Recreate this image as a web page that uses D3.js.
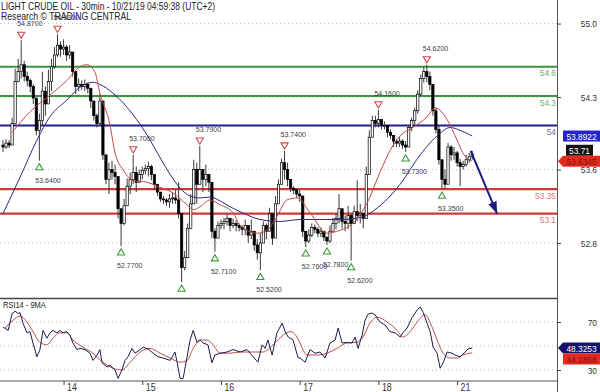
<!DOCTYPE html>
<html>
<head>
<meta charset="utf-8">
<script src="https://cdn.jsdelivr.net/npm/d3@7"></script>
<style>
  body { margin: 0; background: #fff; }
  svg { display: block; font-family: "Liberation Sans", Arial, sans-serif; }
</style>
</head>
<body>
<svg id="chart" width="600" height="392"></svg>
<script>
// 30min bars, open = previous close
const firstOpen = 53.80;
const highs = [53.85,53.86,53.85,54.08,54.58,54.68,54.87,54.66,54.55,54.48,54.42,54.25,54.12,54.55,54.40,54.57,54.68,54.80,54.93,54.86,
  54.88,54.82,54.82,54.72,54.52,54.48,54.46,54.47,54.44,54.35,54.22,54.12,54.32,54.15,53.62,53.62,53.64,53.60,53.40,53.12,
  53.25,53.46,53.52,53.70,53.58,53.55,53.58,53.60,53.63,53.60,53.50,53.40,53.32,53.28,53.26,53.30,53.32,53.34,53.42,52.85,
  52.72,53.00,53.30,53.65,53.62,53.79,53.55,53.60,53.50,53.28,52.95,53.02,53.04,53.06,53.10,53.06,53.05,53.03,53.00,52.98,
  53.04,52.98,53.04,52.90,52.84,52.90,53.02,53.00,53.16,53.10,53.28,53.45,53.66,53.74,53.62,53.44,53.38,53.36,53.34,53.26,
  52.90,52.94,53.00,52.99,52.96,52.96,52.92,52.86,52.98,53.06,53.10,53.30,53.12,53.08,53.18,53.10,53.18,53.44,53.20,53.10,
  53.58,53.95,54.10,54.10,54.16,54.06,54.04,54.00,53.96,53.90,53.86,53.88,53.86,53.84,54.00,54.08,54.18,54.36,54.52,54.60,
  54.62,54.55,54.42,54.18,54.00,53.62,53.55,53.82,53.80,53.78,53.74,53.66,53.64,53.70,53.72,53.74];
const lows = [53.73,53.76,53.77,53.80,54.05,54.44,54.48,54.45,54.40,54.34,54.22,53.90,53.64,54.00,54.10,54.25,54.35,54.58,54.70,54.70,
  54.72,54.66,54.68,54.50,54.32,54.35,54.36,54.35,54.33,54.18,54.05,53.98,54.00,53.65,53.40,53.30,53.45,53.40,53.05,52.77,
  52.98,53.18,53.30,53.40,53.32,53.42,53.45,53.50,53.48,53.44,53.34,53.28,53.22,53.20,53.18,53.16,53.20,53.20,53.05,52.40,
  52.52,52.65,52.95,53.25,53.20,53.40,53.32,53.38,53.32,52.85,52.71,52.88,52.94,52.94,52.98,52.92,52.95,52.92,52.92,52.88,
  52.88,52.80,52.84,52.72,52.63,52.52,52.83,52.84,52.92,52.78,53.02,53.22,53.42,53.45,53.38,53.32,53.30,53.26,53.22,52.86,
  52.76,52.80,52.86,52.90,52.86,52.86,52.82,52.78,52.80,52.92,52.94,53.00,52.95,52.92,52.94,52.62,53.00,53.02,53.00,52.95,
  53.05,53.50,53.90,53.98,53.98,53.96,53.96,53.88,53.86,53.78,53.78,53.78,53.76,53.73,53.80,53.94,54.00,54.12,54.30,54.44,
  54.44,54.36,54.10,53.92,53.60,53.35,53.35,53.42,53.64,53.65,53.58,53.38,53.55,53.58,53.62,53.65];
const closes = [53.78,53.82,53.80,54.02,54.45,54.55,54.62,54.50,54.46,54.40,54.28,53.95,54.05,54.35,54.22,54.45,54.60,54.72,54.82,54.78,
  54.80,54.72,54.75,54.55,54.40,54.42,54.40,54.42,54.38,54.25,54.10,54.02,54.25,53.70,53.45,53.55,53.52,53.48,53.15,53.00,
  53.18,53.38,53.45,53.52,53.42,53.50,53.54,53.56,53.58,53.50,53.40,53.32,53.25,53.24,53.22,53.25,53.26,53.24,53.10,52.55,
  52.65,52.95,53.20,53.55,53.40,53.55,53.45,53.50,53.42,52.92,52.85,52.98,53.00,53.02,53.05,52.98,53.00,52.98,52.96,52.94,
  52.98,52.88,52.92,52.78,52.70,52.80,52.98,52.92,53.10,52.85,53.20,53.40,53.62,53.55,53.45,53.36,53.34,53.30,53.28,52.92,
  52.82,52.88,52.96,52.94,52.90,52.92,52.86,52.82,52.92,53.00,53.05,53.15,53.02,53.00,53.08,53.00,53.12,53.08,53.10,53.05,
  53.50,53.88,54.05,54.02,54.06,54.00,54.00,53.93,53.90,53.84,53.82,53.84,53.80,53.78,53.98,54.05,54.15,54.32,54.48,54.55,
  54.50,54.42,54.15,53.96,53.65,53.45,53.40,53.78,53.70,53.72,53.62,53.58,53.60,53.65,53.68,53.71];

// moving averages (bar index, value)
const maFastBars = [3,8.9,15.5,21.1,25.4,27.7,30.4,32,35.3,37,39.6,42.9,47.6,50.9,56.2,60.8,62.8,65.1,68.4,71.7,76,78.3,83.9,87.2,90.5,
  93.8,97.1,101.4,107,111.3,115.6,120.3,124.5,128.5,132.1,135.4,140.1,142.7,146.7,150,151.9,155];
const maFastVals = [53.93,54.14,54.31,54.46,54.60,54.62,54.54,54.33,54.01,53.72,53.55,53.44,53.42,53.38,53.31,53.19,53.14,53.17,53.24,
  53.19,53.11,52.98,52.90,52.93,53.07,53.24,53.26,53.11,52.90,52.93,53.00,53.21,53.52,53.78,53.92,53.98,54.09,54.18,54.06,53.85,
  53.72,53.6345];
const maSlowBars = [0,5.6,11.2,15.5,21.1,25.4,29.7,32,36.3,40.3,42.9,45.3,48.6,51.9,55.2,58.5,61.8,65.1,68.4,71.7,75,78.3,84.9,91.5,
  98.1,104.7,111.3,117.9,124.5,131.2,137.8,144.4,147.7,151,155];
const maSlowVals = [53.10,53.47,53.85,54.09,54.26,54.39,54.44,54.42,54.33,54.21,54.11,54.01,53.85,53.67,53.50,53.36,53.28,53.26,53.27,
  53.23,53.17,53.12,53.04,53.02,53.04,53.04,53.04,53.06,53.18,53.40,53.70,53.92,53.98,53.95,53.8922];

// RSI14 and its 9MA (bar index, value)
const rsiBars = [0,1.7,3,4,5,5.6,6.6,7.9,8.9,9.9,11.2,12.2,13.2,14.5,15.5,16.5,17.8,18.8,19.8,21.1,22.1,23.1,24.4,25.4,27.1,28.7,29.7,
  31.1,32,32.7,34.4,35.3,37,38,39.3,40.3,41.3,42.6,43.6,45.3,46.3,47.9,49.6,51.2,52.9,55.2,56.8,57.5,58.5,59.5,60.8,61.8,62.8,64.1,
  65.1,66.1,67.7,69,70,71.7,74,76,78.3,80.6,82.6,84.2,85.6,86.6,87.5,88.9,90.5,92.2,93.2,94.2,95.8,97.5,98.1,99.8,101.4,103.1,104.7,
  106.4,108,109.7,110.7,112,113.6,115.3,116.3,117.3,118.6,119.6,120.6,121.9,122.9,124.5,126.2,127.8,129.5,131.2,132.1,133.5,135.1,
  136.8,137.8,138.8,140.1,141.1,142.1,143.4,144.4,145.4,146.7,148.3,149.3,151,152.6,153.6,155];
const rsiVals = [65.8,63,77,79,77,78,69,61,62,52.5,41,47,63,56.5,61,63,61,63,61,62,59,52.5,47,48,47,44,38,42.5,47,36,32.5,34,30,23,30,
  38,41,48,44,47,49,47.5,44,41,40,38,45,36.5,23,23,41,55,63,53,55,52.5,51,36,42.5,44,45,47,45,47,41,36.5,51,48,55,42.5,61,69,62,57.5,
  55,40,40,36.5,47,44,45,40,52.5,55,65,52.5,53,52.5,57.5,48,59,71.5,76.5,77.5,76,70,67.5,62,61,57.5,61,65,73.5,80,82.5,78,69,62,49,
  44,31.5,36,45,44,42.5,41,45,47.5,48.3253];
const rsiMaBars = [0.7,3.3,5.6,7.9,9.9,12.2,14.5,16.5,18.8,21.1,23.1,26.4,29.7,33,36.3,39.3,42,45.3,48.6,51.9,55.2,58.5,60.8,62.8,65.1,
  67.4,69.4,71.7,75,78.3,82.6,85.9,89.2,92.5,94.8,97.1,98.1,100.4,103.7,107,110.3,113.6,116.9,118.9,121.2,123.6,126.9,130.2,132.1,
  134.5,136.8,139.4,141.7,143.4,145.4,147.7,150,151.9,155];
const rsiMaVals = [65,71.5,75,70,62,53,51,56.5,61,61,55,49,44,36.5,31.5,30,36.5,45,48,44,40,36.5,38,48,55,55,51,44,44,45,45,45,51,59,
  62,57.5,52.5,42.5,42.5,44,48,52.5,53,57.5,69,74,70,63,57.5,62,70,76,66,55,44,40,40,42.5,44.2868];

// support / resistance marks and levels
const resBars = [6, 18, 43, 65, 93, 124, 140];
const resVals = [54.87, 54.93, 53.70, 53.79, 53.74, 54.16, 54.62];
const supBars = [12, 39, 59, 70, 85, 100, 107, 115, 133, 145];
const supVals = [53.64, 52.77, 52.40, 52.71, 52.52, 52.76, 52.78, 52.62, 53.73, 53.35];
const levels = [54.6, 54.3, 54.0, 53.35, 53.1];
const levelKinds = ["res", "res", "pivot", "sup", "sup"];
const forecastBars = [154.5, 163.2];
const forecastVals = [53.74, 53.10];

const priceTickVals = [55.04, 54.29, 53.55, 52.8];
const priceTickLabels = ["55.0", "54.3", "53.6", "52.8"];
const rsiTickVals = [70, 30];
const dayLabels = ["14", "15", "16", "17", "18", "21"];
const barsPerDay = 26, firstDayBar = 20;

const SX = 0.88; // text looks horizontally squeezed
const plotW = 557;

const svg = d3.select("#chart");
const x = d3.scaleLinear().domain([-1, 183]).range([0, plotW]);
const y = d3.scaleLinear().domain([52.8, 54.6]).range([243, 66.7]);
const yr = d3.scaleLinear().domain([30, 70]).range([370, 322]);

const levelColor = { res: "#3a963a", pivot: "#1e1e8c", sup: "#cc3a3a" };
const levelText = { res: "#74aa74", pivot: "#6a6aaa", sup: "#d87878" };

function txt(g, x0, y0, str, size, fill, anchor) {
  return g.append("text")
    .attr("transform", `translate(${x0},${y0}) scale(${SX},1)`)
    .attr("font-size", size)
    .attr("fill", fill)
    .attr("text-anchor", anchor || "start")
    .text(str);
}

const defs = svg.append("defs");
defs.append("clipPath").attr("id", "clipMain")
  .append("rect").attr("x", 0).attr("y", 0).attr("width", plotW).attr("height", 298);
defs.append("clipPath").attr("id", "clipRsi")
  .append("rect").attr("x", 0).attr("y", 299).attr("width", plotW).attr("height", 82);
defs.append("marker").attr("id", "arrowHead")
  .attr("markerUnits", "userSpaceOnUse")
  .attr("markerWidth", 13).attr("markerHeight", 10)
  .attr("refX", 12).attr("refY", 4.5).attr("orient", "auto")
  .append("path").attr("d", "M0,0 L12,4.5 L0,9 Z").attr("fill", "#1a1a80");

// title
svg.append("text").attr("x", 1).attr("y", 9.5).attr("font-size", 10.5).attr("fill", "#222")
  .attr("textLength", 214).attr("lengthAdjust", "spacingAndGlyphs")
  .text("LIGHT CRUDE OIL - 30min - 10/21/19 04:59:38 (UTC+2)");
svg.append("text").attr("x", 1).attr("y", 20).attr("font-size", 10.5).attr("fill", "#222")
  .attr("textLength", 130).attr("lengthAdjust", "spacingAndGlyphs")
  .text("Research \u00a9 TRADING CENTRAL");

// ---- main price panel ----
const gMain = svg.append("g").attr("clip-path", "url(#clipMain)");

gMain.append("g").selectAll("line").data(priceTickVals).join("line")
  .attr("x1", 0).attr("x2", plotW)
  .attr("y1", d => y(d)).attr("y2", d => y(d))
  .attr("stroke", "#b8b8b8").attr("stroke-dasharray", "1,3");

gMain.append("g").selectAll("line").data(levels).join("line")
  .attr("x1", 0).attr("x2", plotW)
  .attr("y1", d => y(d)).attr("y2", d => y(d))
  .attr("stroke", (d, i) => levelColor[levelKinds[i]])
  .attr("stroke-width", (d, i) => levelKinds[i] === "sup" ? 2.4 : 2);

levels.forEach((v, i) => {
  txt(gMain, 556, y(v) + 9.5, String(v), 9.5, levelText[levelKinds[i]], "end");
});

const bars = closes.map((c, i) => ({ i, o: i ? closes[i - 1] : firstOpen, h: highs[i], l: lows[i], c }));
const bodyW = 2.3;
const candle = gMain.append("g").selectAll("g").data(bars).join("g");
candle.append("line")
  .attr("x1", d => x(d.i)).attr("x2", d => x(d.i))
  .attr("y1", d => y(d.h)).attr("y2", d => y(d.l))
  .attr("stroke", "#3a3a3a").attr("stroke-width", 1);
candle.append("rect")
  .attr("x", d => x(d.i) - bodyW / 2)
  .attr("y", d => y(Math.max(d.o, d.c)))
  .attr("width", bodyW)
  .attr("height", d => Math.max(1, Math.abs(y(d.o) - y(d.c))))
  .attr("fill", d => d.c >= d.o ? "#fff" : "#000")
  .attr("stroke", "#000").attr("stroke-width", 0.7);

const maLine = d3.line().x(d => x(d[0])).y(d => y(d[1])).curve(d3.curveMonotoneX);
gMain.append("path").datum(d3.zip(maSlowBars, maSlowVals))
  .attr("d", maLine).attr("fill", "none").attr("stroke", "#2c2c80").attr("stroke-width", 1);
gMain.append("path").datum(d3.zip(maFastBars, maFastVals))
  .attr("d", maLine).attr("fill", "none").attr("stroke", "#c04a44").attr("stroke-width", 1);

// forecast arrow
gMain.append("line")
  .attr("x1", x(forecastBars[0])).attr("y1", y(forecastVals[0]))
  .attr("x2", x(forecastBars[1])).attr("y2", y(forecastVals[1]))
  .attr("stroke", "#1a1a80").attr("stroke-width", 2)
  .attr("marker-end", "url(#arrowHead)");

const tri = d3.symbol().type(d3.symbolTriangle).size(22);
const fmt4 = d3.format(".4f");
resBars.forEach((b, k) => {
  const cx = x(b), cy = y(resVals[k]) - 6;
  gMain.append("path").attr("d", tri).attr("transform", `translate(${cx},${cy}) rotate(180)`)
    .attr("fill", "#fff").attr("stroke", "#d04848").attr("stroke-width", 1.1);
  txt(gMain, cx - 4, cy - 8, fmt4(resVals[k]), 8, "#3c3c3c");
});
supBars.forEach((b, k) => {
  const cx = x(b), cy = y(supVals[k]) + 7;
  gMain.append("path").attr("d", tri).attr("transform", `translate(${cx},${cy})`)
    .attr("fill", "#fff").attr("stroke", "#3a9a3a").attr("stroke-width", 1.1);
  txt(gMain, cx - 4, cy + 15, fmt4(supVals[k]), 8, "#3c3c3c");
});

// ---- RSI panel ----
const gRsi = svg.append("g").attr("clip-path", "url(#clipRsi)");
gRsi.append("g").selectAll("line").data([70, 50, 30]).join("line")
  .attr("x1", 0).attr("x2", plotW)
  .attr("y1", d => yr(d)).attr("y2", d => yr(d))
  .attr("stroke", "#b8b8b8").attr("stroke-dasharray", "1,3");
gRsi.append("path").datum(d3.zip(rsiMaBars, rsiMaVals))
  .attr("d", d3.line().x(d => x(d[0])).y(d => yr(d[1])).curve(d3.curveMonotoneX))
  .attr("fill", "none").attr("stroke", "#b8504a").attr("stroke-width", 1);
gRsi.append("path").datum(d3.zip(rsiBars, rsiVals))
  .attr("d", d3.line().x(d => x(d[0])).y(d => yr(d[1])))
  .attr("fill", "none").attr("stroke", "#1c1c50").attr("stroke-width", 1);
txt(svg, 3, 308, "RSI14 - 9MA", 8.5, "#222");

// ---- frame ----
svg.append("line").attr("x1", 0).attr("x2", plotW).attr("y1", 298.5).attr("y2", 298.5)
  .attr("stroke", "#444").attr("stroke-width", 1.5);
svg.append("line").attr("x1", 0).attr("x2", plotW).attr("y1", 381).attr("y2", 381)
  .attr("stroke", "#555").attr("stroke-width", 1);
svg.append("line").attr("x1", plotW + 0.5).attr("x2", plotW + 0.5).attr("y1", 0).attr("y2", 392)
  .attr("stroke", "#555").attr("stroke-width", 1);

// ---- axes ----
function styleRightAxis(g) {
  g.attr("font-family", null).attr("font-size", 9.5);
  g.select(".domain").remove();
  g.selectAll(".tick line").attr("stroke", "#444");
  g.selectAll(".tick text").attr("fill", "#333").attr("text-anchor", "end")
    .attr("x", 40 / SX).attr("transform", `scale(${SX},1)`);
}
svg.append("g").attr("transform", `translate(${plotW},0)`)
  .call(d3.axisRight(y).tickValues(priceTickVals).tickFormat((d, i) => priceTickLabels[i]).tickSize(4))
  .call(styleRightAxis);
svg.append("g").attr("transform", `translate(${plotW},0)`)
  .call(d3.axisRight(yr).tickValues(rsiTickVals).tickSize(4))
  .call(styleRightAxis);

const dayStarts = dayLabels.map((_, k) => firstDayBar + k * barsPerDay);
svg.append("g").attr("transform", "translate(0,381)")
  .call(d3.axisBottom(x).tickValues(dayStarts).tickFormat((d, i) => dayLabels[i]).tickSize(4))
  .call(g => {
    g.attr("font-family", null).attr("font-size", 10);
    g.select(".domain").remove();
    g.selectAll(".tick line").attr("stroke", "#444");
    g.selectAll(".tick text").attr("fill", "#333").attr("text-anchor", "start")
      .attr("y", 3).attr("x", 3 / SX).attr("transform", `scale(${SX},1)`);
  });

// ---- value tags ----
const last = closes.length - 1;
const slowY = y(maSlowVals[maSlowVals.length - 1]);
const fastY = y(maFastVals[maFastVals.length - 1]);
const closeY = Math.min(y(closes[last]), fastY - 11);

function boxTag(cy, x0, w, fill, textFill, str) {
  svg.append("rect").attr("x", x0).attr("y", cy - 5.5).attr("width", w).attr("height", 11).attr("fill", fill);
  txt(svg, x0 + w / 2, cy + 3.5, str, 9.5, textFill, "middle");
}
function arrowTag(cy, fill, textFill, str) {
  svg.append("path")
    .attr("d", `M${plotW + 1},${cy} L${plotW + 6},${cy - 5.5} L600,${cy - 5.5} L600,${cy + 5.5} L${plotW + 6},${cy + 5.5} Z`)
    .attr("fill", fill);
  txt(svg, 581.5, cy + 3.5, str, 9.5, textFill, "middle");
}
boxTag(slowY, 563, 37, "#2424cc", "#fff", fmt4(maSlowVals[maSlowVals.length - 1]));
boxTag(closeY, 566, 27, "#111", "#fff", d3.format(".2f")(closes[last]));
arrowTag(fastY, "#e42a1e", "#8a1010", fmt4(maFastVals[maFastVals.length - 1]));

const rsiY = yr(rsiVals[rsiVals.length - 1]);
const rsiMaY = Math.max(yr(rsiMaVals[rsiMaVals.length - 1]), rsiY + 11);
arrowTag(rsiY, "#12126c", "#fff", fmt4(rsiVals[rsiVals.length - 1]));
boxTag(rsiMaY, 563, 37, "#e42a1e", "#8a1010", fmt4(rsiMaVals[rsiMaVals.length - 1]));
</script>
</body>
</html>
